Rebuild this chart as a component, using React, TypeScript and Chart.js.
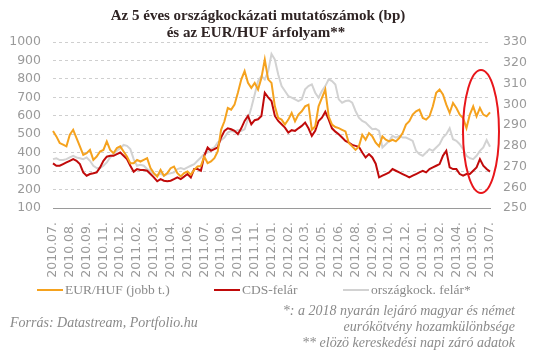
import React, { useEffect, useRef } from "react";
import { Chart, registerables } from "chart.js";

Chart.register(...registerables);

const tickLabels = [
  "2010.07.", "2010.08.", "2010.09.", "2010.11.", "2010.12.", "2011.02.", "2011.03.",
  "2011.04.", "2011.06.", "2011.07.", "2011.09.", "2011.10.", "2011.11.", "2012.01.",
  "2012.02.", "2012.03.", "2012.05.", "2012.06.", "2012.08.", "2012.09.", "2012.10.",
  "2012.12.", "2013.01.", "2013.02.", "2013.04.", "2013.05.", "2013.07.",
];
const POINTS_PER_TICK = 5;

const eurHuf = [
  287.1, 284.5, 281.3, 280.5, 279.7, 285.3, 287.7, 283.7, 279.7, 275.6, 276.4, 278, 273.2, 274.8, 277.2, 278, 282.1,
  278, 276.4, 278.9, 279.7, 277.2, 274.8, 271.6, 271.6, 273.2, 272.4, 273.2, 274.0, 269.2, 266.8, 265.2, 268.4,
  265.5, 266.8, 269.2, 270, 266.8, 265.2, 266.8, 267.6, 266, 268.4, 270, 270.3, 274.8, 271.6, 272.4, 274, 277.2,
  287.7, 291.8, 298.2, 297.4, 299.8, 305.5, 311.9, 316, 310.3, 307.9, 310.3, 307.1, 312.7, 321.6, 312,
  310.3, 299, 293.4, 292.6, 290.2, 292.6, 295.8, 291.8, 295, 296.6, 299, 299.8, 287.7, 289.3, 299, 303.1, 307.1,
  294.2, 290.2, 289, 288.5, 287.7, 286.9, 281.3, 279.7, 278, 279.7, 285.3, 282.9, 286.1, 284.5, 281.5,
  279.7, 284.5, 282.9, 282.1, 282.9, 282.1, 283.7, 286.1, 290.2, 291.8, 295, 296.6, 297.4, 293.4, 292.6, 294.2,
  299, 305.5, 307.1, 304.7, 299.8, 295.8, 300.6, 298.2, 295, 293.4, 288.5, 295, 299, 294.2, 298.2, 295, 294.2, 296.1,
];

const cdsSpread = [
  342, 329, 329, 338, 347, 356, 365, 356, 338, 293, 275, 284, 288, 293, 320, 356, 378, 383, 383, 392, 401, 383,
  365, 329, 297, 311, 306, 306, 302, 284, 266, 245, 257,
  248, 245, 248, 257, 266, 257, 270, 284, 266, 311, 311, 302, 383, 428, 410, 419, 428, 482, 518, 532, 527, 518,
  500, 532, 572, 599, 554, 576, 581, 599, 725, 700,
  680, 599, 572, 554, 536, 509, 522, 518, 532, 545, 563, 532, 491, 518, 572, 590, 622, 581, 532, 514, 500, 482,
  464, 455, 442, 437, 432, 401, 374, 392, 374, 340,
  266, 275, 284, 293, 311, 302, 293, 284, 275, 266, 275, 284, 293, 302, 293, 311, 320, 329, 338, 383, 410, 320,
  311, 311, 284, 275, 284, 284, 302, 320, 365, 329, 311, 297,
];

const countryRisk = [
  365, 370, 360, 360, 365, 374, 383, 374, 370, 365, 374, 356, 329, 317, 317, 329, 347, 374, 392, 410, 424, 442,
  437, 419, 365, 329, 334, 329, 311, 302, 284, 275, 288,
  275, 284, 288, 293, 311, 317, 311, 320, 329, 338, 356, 374, 392, 401, 419, 428, 455, 468, 482, 509, 518, 514,
  522, 518, 527, 581, 644, 716, 788, 815, 797, 840,
  935, 905, 824, 761, 734, 707, 698, 689, 680, 689, 743, 761, 770, 725, 698, 734, 761, 797, 788, 770, 689, 671,
  680, 683, 671, 626, 590, 572, 563, 545, 527, 530,
  518, 428, 446, 464, 491, 482, 491, 482, 482, 473, 464, 410, 392, 383, 401, 419, 410, 428, 446, 482, 500, 532,
  473, 464, 446, 419, 383, 370, 365, 383, 410, 428, 468, 432,
];

const titleLines = ["Az 5 éves országkockázati mutatószámok (bp)", "és az EUR/HUF árfolyam**"];
const legendItems = [
  { label: "EUR/HUF (jobb t.)", color: "#F5A21E" },
  { label: "CDS-felár", color: "#C00A0A" },
  { label: "országkock. felár*", color: "#D2D2D2" },
];
const sourceText = "Forrás: Datastream, Portfolio.hu";
const noteLines = [
  "*: a 2018 nyarán lejáró magyar és német",
  "eurókötvény hozamkülönbsége",
  "** elözö kereskedési napi záró adatok",
];

const xLabels = eurHuf.map((_, i) => (i % POINTS_PER_TICK === 0 ? tickLabels[i / POINTS_PER_TICK] : ""));

const overlayPlugin = {
  id: "overlay",
  afterDraw(chart: any) {
    const ctx = chart.ctx as CanvasRenderingContext2D;
    ctx.save();
    // title
    ctx.fillStyle = "#2f2424";
    ctx.font = 'bold 15px "Liberation Serif"';
    ctx.textAlign = "center";
    ctx.textBaseline = "middle";
    ctx.fillText(titleLines[0], 258, 16);
    ctx.fillText(titleLines[1], 256, 33);

    // highlight ellipse
    ctx.strokeStyle = "#E8161B";
    ctx.lineWidth = 2;
    ctx.beginPath();
    ctx.ellipse(481, 131.5, 18, 61.5, 0, 0, Math.PI * 2);
    ctx.stroke();

    // legend
    const legendX = [37, 214, 343];
    ctx.font = '13.5px "Liberation Serif"';
    ctx.textAlign = "left";
    ctx.textBaseline = "middle";
    legendItems.forEach((it, k) => {
      const x0 = legendX[k];
      ctx.strokeStyle = it.color;
      ctx.lineWidth = 2;
      ctx.beginPath();
      ctx.moveTo(x0, 290);
      ctx.lineTo(x0 + 26, 290);
      ctx.stroke();
      ctx.fillStyle = "#8a8a8a";
      ctx.fillText(it.label, x0 + 28, 290);
    });

    // footnotes
    ctx.font = 'italic 14px "Liberation Serif"';
    ctx.fillStyle = "#8a8a8a";
    ctx.textAlign = "left";
    ctx.fillText(sourceText, 10, 323);
    ctx.textAlign = "right";
    noteLines.forEach((t, k) => ctx.fillText(t, 515, 311 + k * 16));
    ctx.restore();
  },
};

export default function App() {
  const canvasRef = useRef<HTMLCanvasElement | null>(null);

  useEffect(() => {
    document.body.style.margin = "0";
    const canvas = canvasRef.current;
    if (!canvas) return;
    const tickFont = { family: '"DejaVu Sans"', size: 12.5 };
    const plain = (v: any) => String(v);
    const chart = new Chart(canvas, {
      type: "line",
      data: {
        labels: xLabels,
        datasets: [
          {
            label: legendItems[0].label,
            data: eurHuf,
            borderColor: legendItems[0].color,
            yAxisID: "yR",
            borderWidth: 2,
            pointRadius: 0,
            tension: 0,
          },
          {
            label: legendItems[1].label,
            data: cdsSpread,
            borderColor: legendItems[1].color,
            yAxisID: "yL",
            borderWidth: 2,
            pointRadius: 0,
            tension: 0,
          },
          {
            label: legendItems[2].label,
            data: countryRisk,
            borderColor: legendItems[2].color,
            yAxisID: "yL",
            borderWidth: 2,
            pointRadius: 0,
            tension: 0,
          },
        ],
      },
      options: {
        responsive: false,
        animation: false,
        layout: { padding: { top: 42, left: 0, right: 0, bottom: 0 } },
        plugins: { legend: { display: false }, tooltip: { enabled: false }, title: { display: false } },
        scales: {
          x: {
            type: "category",
            offset: false,
            grid: { color: "transparent", drawTicks: false },
            border: { display: true, color: "#9a9a9a", width: 1 },
            ticks: {
              autoSkip: false,
              minRotation: 90,
              maxRotation: 90,
              padding: 14,
              color: "#9a9a9a",
              font: tickFont,
            },
            afterFit: (s: any) => {
              s.height = 148;
            },
          },
          yL: {
            type: "linear",
            position: "left",
            min: 100,
            max: 1000,
            ticks: { stepSize: 100, color: "#9a9a9a", padding: 12, font: tickFont, callback: plain },
            grid: { color: "#cfcfcf", drawTicks: false, lineWidth: 1 },
            border: { display: false, dash: [3, 3] },
            afterFit: (s: any) => {
              s.width = 53;
            },
          },
          yR: {
            type: "linear",
            position: "right",
            min: 250,
            max: 330,
            ticks: { stepSize: 10, color: "#9a9a9a", padding: 13, font: tickFont, callback: plain },
            grid: { display: false, drawOnChartArea: false, drawTicks: false },
            border: { display: false },
            afterFit: (s: any) => {
              s.width = 55;
            },
          },
        },
      },
      plugins: [overlayPlugin],
    });
    return () => chart.destroy();
  }, []);

  return (
    <div style={{ width: 545, height: 356, background: "#fff" }}>
      <canvas ref={canvasRef} width={545} height={356} />
    </div>
  );
}
